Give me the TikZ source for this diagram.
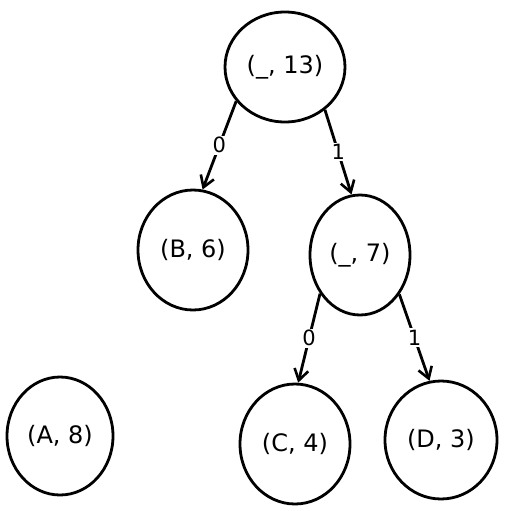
\documentclass[tikz,border=0pt]{standalone}
\usepackage{fontspec}
\setmainfont{DejaVu Sans}
\usetikzlibrary{shapes.geometric,arrows.meta}
\begin{document}
\begin{tikzpicture}[x=1pt,y=-1pt,
  treenode/.style={ellipse,draw,line width=2.8pt,inner sep=0pt,font=\fontsize{24}{28}\selectfont},
  edgearrow/.style={-{Straight Barb[length=11pt,width=14pt,line width=2.6pt]},line width=2.8pt},
  bitlabel/.style={fill=white,inner sep=1.5pt,font=\fontsize{21}{25}\selectfont}]
\useasboundingbox (0,0) rectangle (510,511);
\node[treenode,minimum width=120pt,minimum height=110pt] (root) at (285,67) {(\_, 13)};
\node[treenode,minimum width=110pt,minimum height=120pt] (B) at (193,250) {(B, 6)};
\node[treenode,minimum width=100pt,minimum height=120pt] (n7) at (360,255) {(\_, 7)};
\node[treenode,minimum width=106pt,minimum height=118pt] (A) at (60,436) {(A, 8)};
\node[treenode,minimum width=110pt,minimum height=120pt] (C) at (295,444) {(C, 4)};
\node[treenode,minimum width=112pt,minimum height=118pt] (D) at (441,440) {(D, 3)};
\draw[edgearrow] (root.215) -- node[bitlabel]{0} (B.81);
\draw[edgearrow] (root.313) -- node[bitlabel]{1} (n7.98);
\draw[edgearrow] (n7.224) -- node[bitlabel]{0} (C.87);
\draw[edgearrow] (n7.315) -- node[bitlabel]{1} (D.101);
\end{tikzpicture}
\end{document}
